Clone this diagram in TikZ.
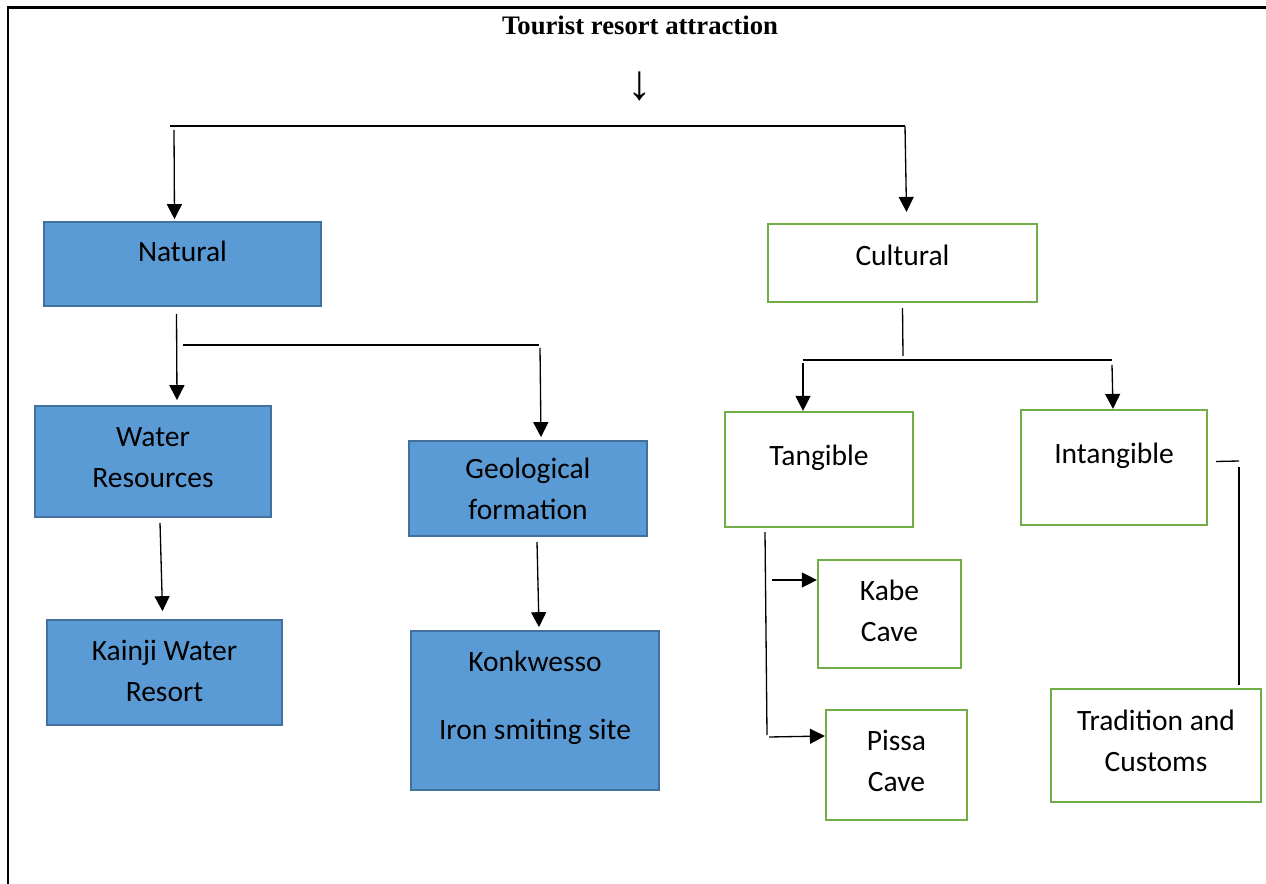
\documentclass[tikz,border=0pt]{standalone}
\usepackage{fontspec}
\setmainfont{Carlito}
\newfontfamily\titlefont{Liberation Serif}
\usetikzlibrary{arrows.meta,positioning}
\newlength\px
\setlength\px{0.02cm}
\definecolor{natc}{RGB}{91,155,213}
\definecolor{natedge}{RGB}{65,113,156}
\definecolor{culc}{RGB}{112,173,71}
\newcommand\boxfont{\fontsize{16.8}{23.3}\selectfont}
\tikzset{
	natbox/.style={
		rectangle, draw=natedge, line width=0.95pt, fill=natc,
		align=center, inner sep=0pt, font=\boxfont
	},
	%
	culbox/.style={
		rectangle, draw=culc, line width=1.25pt, fill=white,
		align=center, inner sep=0pt, font=\boxfont
	},
	%
	link/.style={
		line width=0.75pt, -{Triangle[length=0.3cm, width=0.3cm]}
	},
	%
	plainlink/.style={line width=0.75pt}
}

\begin{document}
\begin{tikzpicture}[x=0.02cm, y=-0.02cm]
\useasboundingbox (0,0) rectangle (1266,884);
\draw[line width=1.5pt] (8,884) -- (8,7.5) -- (1266,7.5);

\node(title) at (640,25) [font=\titlefont\fontsize{15.2}{18}\selectfont\bfseries] {Tourist resort attraction};
\node(downarr) at (640,86) [font=\titlefont\fontsize{28}{30}\selectfont] {↓};

% natural side
\node(natural)[natbox, minimum width=277\px, minimum height=84\px, text depth=26\px] at (182.5,264) {Natural};
\node(water)[natbox, minimum width=236\px, minimum height=111\px, text depth=8\px] at (153,461.5) {Water\\Resources};
\node(geo)[natbox, minimum width=238\px, minimum height=95\px] at (528,488.5) {Geological\\formation};
\node(kainji)[natbox, minimum width=235\px, minimum height=105\px, text depth=4\px] at (164.5,672.5) {Kainji Water\\Resort};
\node(konk)[natbox, minimum width=248\px, minimum height=159\px, text depth=31\px] at (535,710.5) {Konkwesso\\[27\px]Iron smiting site};

% cultural side
\node(cultural)[culbox, minimum width=269\px, minimum height=78\px, text depth=16\px] at (902.5,263) {Cultural};
\node(tangible)[culbox, minimum width=188\px, minimum height=115\px, text depth=29\px] at (819,469.5) {Tangible};
\node(intangible)[culbox, minimum width=186\px, minimum height=115\px, text depth=29\px] at (1114,467.5) {Intangible};
\node(kabe)[culbox, minimum width=143\px, minimum height=108\px, text depth=7\px] at (889.5,614) {Kabe\\Cave};
\node(pissa)[culbox, minimum width=141\px, minimum height=110\px, text depth=8\px] at (896.5,765) {Pissa\\Cave};
\node(trad)[culbox, minimum width=210\px, minimum height=113\px, text depth=10\px] at (1156,745.5) {Tradition and\\Customs};

\coordinate (barL) at (170,126);
\coordinate (barR) at (905,126);
\coordinate (natL) at (183,345);
\coordinate (natR) at (539,345);
\coordinate (culM) at (903,356);
\coordinate (culL) at (803,360);
\coordinate (culR) at (1112,360);
\coordinate (tanB) at (767,735);
\coordinate (kabeT) at (772,580);
\coordinate (pissaT) at (769,737);
\coordinate (intR) at (1239,461);
\coordinate (tradT) at (1239,467);

\draw[plainlink] (barL) -- (barR);
\draw[link] ([xshift=4\px,yshift=-4\px]barL) -- ([xshift=-8\px,yshift=2\px]natural.north);
\draw[link] (barR) -- ([xshift=4\px,yshift=11\px]cultural.north);

\draw[link] ([xshift=-6\px,yshift=-7\px]natural.south) -- ([xshift=24\px,yshift=5\px]water.north);
\draw[plainlink] (natL) -- (natR);
\draw[link] ([xshift=1\px,yshift=-3\px]natR) -- ([xshift=13\px,yshift=3\px]geo.north);
\draw[link] ([xshift=7\px,yshift=-5\px]water.south) -- ([xshift=-2\px,yshift=8\px]kainji.north);
\draw[link] ([xshift=9\px,yshift=-5\px]geo.south) -- ([xshift=4\px,yshift=3\px]konk.north);

\draw[plainlink] ([yshift=-5\px]cultural.south) -- (culM);
\draw[plainlink] (culL) -- (culR);
\draw[link] ([yshift=-3\px]culL) -- ([xshift=-16\px]tangible.north);
\draw[link] ([yshift=-5\px]culR) -- ([xshift=-1\px]intangible.north);

\draw[plainlink] ([xshift=-54\px,yshift=-4\px]tangible.south) -- (tanB);
\draw[link] (kabeT) -- ([yshift=34\px]kabe.west);
\draw[link] (pissaT) -- ([yshift=29\px]pissa.west);

\draw[plainlink] ([xshift=8\px,yshift=6\px]intangible.east) -- (intR);
\draw[plainlink] (tradT) -- ([xshift=83\px,yshift=3\px]trad.north);
\end{tikzpicture}
\end{document}
